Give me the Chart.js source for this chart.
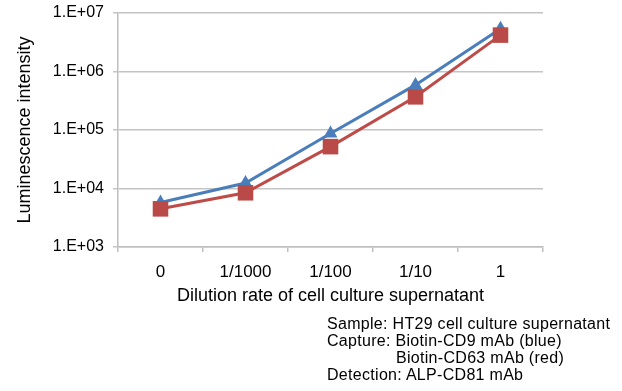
<!DOCTYPE html>
<html>
<head>
<meta charset="utf-8">
<script src="https://cdn.jsdelivr.net/npm/chart.js@4"></script>
<style>
  html, body { margin: 0; padding: 0; background: #fff; }
  #wrap { position: relative; width: 622px; height: 391px; }
  #note {
    position: absolute; left: 327px; top: 315px;
    font-family: "Liberation Sans", Arial, sans-serif;
    font-size: 16px; letter-spacing: 0.3px; line-height: 17px; color: #000; white-space: nowrap;
  }
  #note .indent { padding-left: 69px; }
</style>
</head>
<body>
<div id="wrap">
  <canvas id="chart" width="622" height="391"></canvas>
  <div id="note">
    <div>Sample: HT29 cell culture supernatant</div>
    <div>Capture: Biotin-CD9 mAb (blue)</div>
    <div class="indent">Biotin-CD63 mAb (red)</div>
    <div>Detection: ALP-CD81 mAb</div>
  </div>
</div>
<script>
const dilutions = ['0', '1/1000', '1/100', '1/10', '1'];
const cd9Values = [5760, 12400, 87000, 590000, 5400000];
const cd63Values = [4490, 8450, 52000, 369000, 4190000];
const yTicks = [1e3, 1e4, 1e5, 1e6, 1e7];

const font = 'Liberation Sans, Arial, sans-serif';

function formatTick(v) {
    const exp = Math.round(Math.log10(v));
    return '1.E+' + (exp < 10 ? '0' : '') + exp;
}

document.addEventListener('DOMContentLoaded', function () {
    const ctx = document.getElementById('chart').getContext('2d');

    new Chart(ctx, {
        type: 'line',
        data: {
            labels: dilutions,
            datasets: [{
                label: 'Biotin-CD9 mAb',
                data: cd9Values,
                borderColor: '#4a7ebb',
                backgroundColor: '#4a7ebb',
                borderWidth: 3,
                pointStyle: 'triangle',
                pointRadius: 8,
                pointBorderWidth: 0,
                order: 1
            }, {
                label: 'Biotin-CD63 mAb',
                data: cd63Values,
                borderColor: '#be4b48',
                backgroundColor: '#b94a47',
                borderWidth: 3,
                pointStyle: 'rect',
                pointRadius: 11,
                pointBorderWidth: 0,
                order: 0
            }]
        },
        options: {
            responsive: false,
            animation: false,
            layout: { padding: { left: 0, right: 79, top: 13, bottom: 80 } },
            plugins: {
                legend: { display: false },
                tooltip: { enabled: false }
            },
            scales: {
                x: {
                    offset: true,
                    afterFit: s => { s.height = 64; },
                    grid: { offset: true, drawOnChartArea: false, tickLength: 5, color: '#bfbfbf', lineWidth: 1.5 },
                    border: { color: '#bfbfbf', width: 1.5 },
                    ticks: { color: '#000', font: { family: font, size: 17 }, padding: 10 },
                    title: {
                        display: true,
                        text: 'Dilution rate of cell culture supernatant',
                        color: '#000',
                        font: { family: font, size: 18 },
                        padding: { top: 0, bottom: 4 }
                    }
                },
                y: {
                    type: 'logarithmic',
                    min: 1e3,
                    max: 1e7,
                    afterFit: s => { s.width = 118; s.paddingTop = 0; s.paddingBottom = 0; },
                    afterBuildTicks: s => { s.ticks = yTicks.map(v => ({ value: v })); },
                    grid: { tickLength: 5, color: '#c4c4c4', lineWidth: 1.5 },
                    border: { color: '#bfbfbf', width: 1.5 },
                    ticks: { color: '#000', font: { family: font, size: 16 }, padding: 9, callback: formatTick },
                    title: {
                        display: true,
                        text: 'Luminescence intensity',
                        color: '#000',
                        font: { family: font, size: 18 },
                        padding: { top: 14, bottom: 0 }
                    }
                }
            }
        }
    });
});
</script>
</body>
</html>
